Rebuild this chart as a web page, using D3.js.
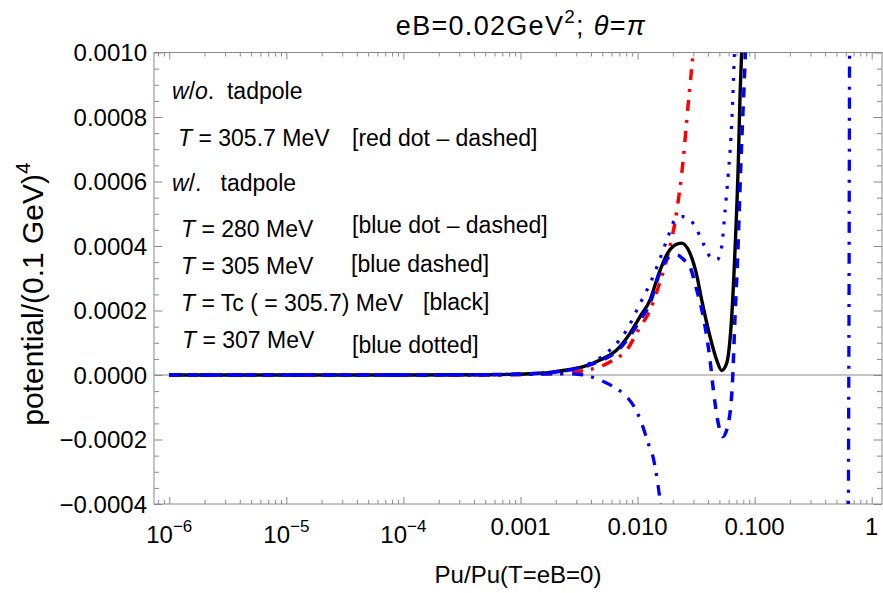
<!DOCTYPE html>
<html>
<head>
<meta charset="utf-8">
<script src="https://cdn.jsdelivr.net/npm/d3@7"></script>
<style>
  body { margin: 0; background: #fff; }
  text { font-family: "Liberation Sans", Arial, sans-serif; fill: #000; }
</style>
</head>
<body>
<div id="chart"></div>
<script>
// ---- data ----
// T = 305.7 MeV, no tadpole (red dot-dashed)
const xRed = [1e-6, 1e-5, 1e-4, 5e-4, 0.0012, 0.0018, 0.00265, 0.00344, 0.00478, 0.00621, 0.00808, 0.01015, 0.0128, 0.01555, 0.0177, 0.0196, 0.0209, 0.0221, 0.0236, 0.0249, 0.0264, 0.0280, 0.0297, 0.0309];
const yRed = [0, 0, 0, 0.5e-6, 2e-6, 3.5e-6, 5.3e-6, 1.33e-5, 2.57e-5, 4.65e-5, 7.75e-5, 1.395e-4, 2.02e-4, 2.88e-4, 3.57e-4, 4.25e-4, 4.74e-4, 5.33e-4, 6.11e-4, 6.92e-4, 7.97e-4, 8.96e-4, 9.92e-4, 1.064e-3];

// T = 280 MeV (blue dot-dashed)
const x280 = [1e-6, 1e-5, 1e-4, 5e-4, 0.0012, 0.0018, 0.0025, 0.00344, 0.00478, 0.0062, 0.00808, 0.00951, 0.01085, 0.01235, 0.01363, 0.01457, 0.01555, 0.0165, 0.03, 0.1, 0.4, 0.62, 0.63, 0.636, 0.640, 0.645, 0.66];
const y280 = [0, 0, 0, 0.5e-6, 2e-6, 3.5e-6, 4e-6, 0, -1.55e-5, -3.63e-5, -6.73e-5, -1.03e-4, -1.50e-4, -2.12e-4, -2.58e-4, -3.15e-4, -3.88e-4, -4.8e-4, -1.2e-3, -3e-3, -3e-3, -1.5e-3, -6e-4, -1e-4, 2e-4, 8e-4, 2e-3];

// T = 305 MeV (blue dashed)
const x305 = [1e-6, 1e-5, 1e-4, 5e-4, 0.0012, 0.0018, 0.00248, 0.00344, 0.00478, 0.00663, 0.00862, 0.0105, 0.0128, 0.01555, 0.0182, 0.0217, 0.0249, 0.0280, 0.0320, 0.0364, 0.0416, 0.0444, 0.0489, 0.0534, 0.0596, 0.0650, 0.0680, 0.0711, 0.0765, 0.0827, 0.0852];
const y305 = [0, 0, 0.1e-6, 1e-6, 4e-6, 8e-6, 1.4e-5, 2.48e-5, 4.34e-5, 7.29e-5, 1.21e-4, 1.70e-4, 2.23e-4, 3.19e-4, 3.63e-4, 3.72e-4, 3.57e-4, 3.36e-4, 2.64e-4, 1.81e-4, 4.65e-5, -4.65e-5, -1.50e-4, -1.91e-4, -1.50e-4, -5e-6, 1.81e-4, 3.36e-4, 6.67e-4, 9.67e-4, 1.10e-3];

// T = Tc = 305.7 MeV (black)
const xTc = [1e-6, 1e-5, 1e-4, 5e-4, 0.0012, 0.0018, 0.00248, 0.00344, 0.00478, 0.00663, 0.00862, 0.0105, 0.0128, 0.01495, 0.0177, 0.0209, 0.0238, 0.0280, 0.0320, 0.0353, 0.0416, 0.0474, 0.0523, 0.0577, 0.0637, 0.0680, 0.0725, 0.0750, 0.0775, 0.0795];
const yTc = [0, 0, 0.1e-6, 1e-6, 4e-6, 8.3e-6, 1.55e-5, 2.57e-5, 4.65e-5, 7.75e-5, 1.29e-4, 1.81e-4, 2.33e-4, 3.07e-4, 3.72e-4, 4.03e-4, 4.09e-4, 3.78e-4, 3.10e-4, 2.33e-4, 1.19e-4, 4.65e-5, 1.4e-5, 3.63e-5, 1.81e-4, 3.88e-4, 6.56e-4, 8.63e-4, 1.002e-3, 1.10e-3];

// T = 307 MeV (blue dotted)
const x307 = [1e-6, 1e-5, 1e-4, 5e-4, 0.0012, 0.0018, 0.00265, 0.00392, 0.00582, 0.00808, 0.0105, 0.0128, 0.01586, 0.0183, 0.0209, 0.0246, 0.0299, 0.0364, 0.0416, 0.0477, 0.0523, 0.0558, 0.0596, 0.0628, 0.0650, 0.0667, 0.0680];
const y307 = [0, 0, 0.1e-6, 1e-6, 4e-6, 8e-6, 1.55e-5, 3.63e-5, 7.75e-5, 1.395e-4, 2.22e-4, 2.84e-4, 3.69e-4, 4.31e-4, 4.81e-4, 4.91e-4, 4.70e-4, 4.08e-4, 3.67e-4, 3.57e-4, 3.98e-4, 5.06e-4, 6.25e-4, 7.39e-4, 8.53e-4, 9.67e-4, 1.07e-3];

// ticks
const xMajor = [1e-6, 1e-5, 1e-4, 1e-3, 1e-2, 1e-1, 1];
const xTickLabels = [["10", "\u22126"], ["10", "\u22125"], ["10", "\u22124"], "0.001", "0.010", "0.100", "1"];
const yMajor = [-0.0004, -0.0002, 0, 0.0002, 0.0004, 0.0006, 0.0008, 0.0010];
const yTickLabels = ["\u22120.0004", "\u22120.0002", "0.0000", "0.0002", "0.0004", "0.0006", "0.0008", "0.0010"];

// ---- layout ----
const svgWidth = 883, svgHeight = 593,
    plotBox = { left: 154, right: 882, top: 52.5, bottom: 504 };
const frameColor = "#8a8a8a";

const svg = d3.select("#chart").append("svg")
    .attr("width", svgWidth)
    .attr("height", svgHeight);

const x = d3.scaleLog().domain([7.404e-7, 1.2246]).range([plotBox.left, plotBox.right]);
const y = d3.scaleLinear().domain([-0.0004, 0.001]).range([plotBox.bottom, plotBox.top]);

// minor tick positions
let xMinor = [];
for (let e = -7; e <= 0; e++) {
    for (let k = 2; k <= 9; k++) {
        let v = k * Math.pow(10, e);
        if (v > x.domain()[0] && v < x.domain()[1]) xMinor.push(v);
    }
}
let yMinor = d3.range(-0.0004, 0.00100001, 0.00005).filter(v => !yMajor.some(m => Math.abs(m - v) < 1e-9));

// zero line
svg.append("line")
    .attr("x1", plotBox.left).attr("x2", plotBox.right)
    .attr("y1", y(0)).attr("y2", y(0))
    .attr("stroke", frameColor).attr("stroke-width", 1);

// axes (ticks only, pointing inward)
function tickAxis(axisFn, scale, values, size, transform) {
    const g = svg.append("g")
        .attr("transform", transform)
        .call(axisFn(scale).tickValues(values).tickSizeInner(-size).tickSizeOuter(0).tickFormat(""));
    g.select(".domain").remove();
    g.selectAll("line").attr("stroke", frameColor);
    return g;
}
tickAxis(d3.axisBottom, x, xMajor, 7, `translate(0,${plotBox.bottom})`);
tickAxis(d3.axisBottom, x, xMinor, 4, `translate(0,${plotBox.bottom})`);
tickAxis(d3.axisTop, x, xMajor, 7, `translate(0,${plotBox.top})`);
tickAxis(d3.axisTop, x, xMinor, 4, `translate(0,${plotBox.top})`);
tickAxis(d3.axisLeft, y, yMajor, 8.5, `translate(${plotBox.left},0)`);
tickAxis(d3.axisLeft, y, yMinor, 5, `translate(${plotBox.left},0)`);
tickAxis(d3.axisRight, y, yMajor, 8.5, `translate(${plotBox.right},0)`);
tickAxis(d3.axisRight, y, yMinor, 5, `translate(${plotBox.right},0)`);

// frame
svg.append("rect")
    .attr("x", plotBox.left).attr("y", plotBox.top)
    .attr("width", plotBox.right - plotBox.left).attr("height", plotBox.bottom - plotBox.top)
    .attr("fill", "none").attr("stroke", frameColor).attr("stroke-width", 1);

// tick labels
svg.selectAll(".ylab")
    .data(yMajor)
    .join("text")
    .attr("class", "ylab")
    .attr("x", plotBox.left - 7)
    .attr("y", d => y(d) + 8.5)
    .attr("text-anchor", "end")
    .attr("font-size", 24)
    .text((d, i) => yTickLabels[i]);

xMajor.forEach((v, i) => {
    const lab = xTickLabels[i];
    const t = svg.append("text")
        .attr("x", x(v))
        .attr("text-anchor", "middle")
        .attr("font-size", 24);
    if (Array.isArray(lab)) {
        t.attr("y", 543);
        t.append("tspan").text(lab[0]);
        t.append("tspan").attr("font-size", 17).attr("dy", -11).text(lab[1]);
    } else {
        t.attr("y", 535).text(lab);
    }
});

// axis labels
svg.append("text")
    .attr("x", (plotBox.left + plotBox.right) / 2)
    .attr("y", 583)
    .attr("text-anchor", "middle")
    .attr("font-size", 24)
    .text("Pu/Pu(T=eB=0)");

const yl = svg.append("text")
    .attr("transform", "translate(43, 294) rotate(-90)")
    .attr("text-anchor", "middle")
    .attr("font-size", 30);
yl.append("tspan").text("potential/(0.1 GeV)");
yl.append("tspan").attr("font-size", 21).attr("dy", -13).text("4");

// title
const title = svg.append("text")
    .attr("x", (plotBox.left + plotBox.right) / 2 + 3)
    .attr("y", 35)
    .attr("text-anchor", "middle")
    .attr("font-size", 27)
    .attr("letter-spacing", 1.3);
title.append("tspan").text("eB=0.02GeV");
title.append("tspan").attr("font-size", 19).attr("dy", -12).text("2");
title.append("tspan").attr("dy", 12).text("; ");
title.append("tspan").attr("font-style", "italic").text("\u03b8");
title.append("tspan").text("=");
title.append("tspan").attr("font-style", "italic").text("\u03c0");

// curves
svg.append("clipPath").attr("id", "plot-clip")
    .append("rect")
    .attr("x", plotBox.left).attr("y", plotBox.top)
    .attr("width", plotBox.right - plotBox.left).attr("height", plotBox.bottom - plotBox.top);

const line = d3.line()
    .x(d => x(d[0]))
    .y(d => y(d[1]))
    .curve(d3.curveMonotoneX);

const curves = [
    { xs: xRed, ys: yRed, color: "#ff0000", width: 3.5, dash: "11,8,3,9" },
    { xs: xTc, ys: yTc, color: "#000000", width: 3.4, dash: null },
    { xs: x305, ys: y305, color: "#0000ff", width: 3.5, dash: "10,9" },
    { xs: x307, ys: y307, color: "#0000ff", width: 3.2, dash: "3,9" },
    { xs: x280, ys: y280, color: "#0000ff", width: 3.3, dash: "11,8,3,9" }
];

const plot = svg.append("g").attr("clip-path", "url(#plot-clip)");
plot.selectAll("path")
    .data(curves)
    .join("path")
    .attr("d", c => line(c.xs.map((v, i) => [v, c.ys[i]])))
    .attr("fill", "none")
    .attr("stroke", c => c.color)
    .attr("stroke-width", c => c.width)
    .attr("stroke-dasharray", c => c.dash);

// legend text
function legendLine(xPos, yPos, parts) {
    const t = svg.append("text")
        .attr("x", xPos).attr("y", yPos)
        .attr("font-size", 23)
        .style("white-space", "pre");
    parts.forEach(p => {
        t.append("tspan")
            .attr("font-style", p[1] ? "italic" : "normal")
            .text(p[0]);
    });
}
legendLine(172, 99, [["w", 1], ["/", 0], ["o", 1], [".  tadpole", 0]]);
legendLine(178, 146, [["T", 1], [" = 305.7 MeV", 0]]);
legendLine(352, 146, [["[red dot \u2013 dashed]", 0]]);
legendLine(172, 191, [["w", 1], ["/.   tadpole", 0]]);
legendLine(181, 237, [["T", 1], [" = 280 MeV", 0]]);
legendLine(352, 233, [["[blue dot \u2013 dashed]", 0]]);
legendLine(181, 274, [["T", 1], [" = 305 MeV", 0]]);
legendLine(351, 272, [["[blue dashed]", 0]]);
legendLine(181, 311, [["T", 1], [" = Tc ( = 305.7) MeV", 0]]);
legendLine(423, 310, [["[black]", 0]]);
legendLine(182, 348, [["T", 1], [" = 307 MeV", 0]]);
legendLine(352, 353, [["[blue dotted]", 0]]);
</script>
</body>
</html>
